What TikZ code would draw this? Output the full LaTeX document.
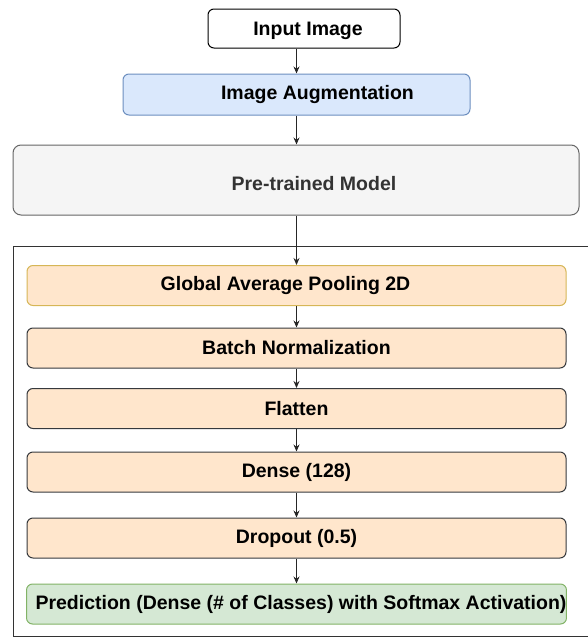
\documentclass[tikz,border=0pt]{standalone}
\usepackage{fontspec}
\setmainfont{Liberation Sans}
\usetikzlibrary{arrows.meta}
\definecolor{augfill}{HTML}{DAE8FC}
\definecolor{augdraw}{HTML}{6C8EBF}
\definecolor{prefill}{HTML}{F5F5F5}
\definecolor{predraw}{HTML}{666666}
\definecolor{pretext}{HTML}{333333}
\definecolor{layfill}{HTML}{FFE6CC}
\definecolor{gapdraw}{HTML}{D6B656}
\definecolor{laydraw}{HTML}{36393D}
\definecolor{prdfill}{HTML}{D5E8D4}
\definecolor{prddraw}{HTML}{82B366}
\tikzset{
  box/.style={draw, rounded corners=6pt, line width=1pt, inner sep=0pt,
    font=\fontsize{19.5}{22}\selectfont\bfseries, text=black},
  layer/.style={box, fill=layfill, draw=laydraw, minimum width=539pt, minimum height=40pt},
  flow/.style={draw=black!85, line width=1pt, -{Stealth[length=7pt,width=6pt]}},
  frame/.style={draw=black!80, line width=1pt}
}
\begin{document}
\begin{tikzpicture}[x=1pt,y=-1pt]
\useasboundingbox (0,0) rectangle (587,637);
\node[box, fill=white, draw=black, minimum width=192pt, minimum height=39pt] (in) at (304,28.5) {\raisebox{-2pt}[\height][\depth]{\hspace*{8pt}Input Image}};
\node[box, fill=augfill, draw=augdraw, minimum width=347pt, minimum height=41pt] (aug) at (296.5,94.5) {\hspace*{42pt}Image Augmentation};
\node[box, fill=prefill, draw=predraw, text=pretext, rounded corners=8pt, minimum width=566pt, minimum height=70pt] (pre) at (296,180) {\raisebox{-4pt}[\height][\depth]{\hspace*{36pt}Pre-trained Model}};
\coordinate (ftr) at (590,246);
\coordinate (ftl) at (13.5,246);
\coordinate (fbl) at (13.5,636);
\coordinate (fbr) at (590,636);
\draw[frame] (ftr) -- (ftl) -- (fbl) -- (fbr);
\node[layer, draw=gapdraw] (gap) at (296.5,285.5) {\hspace*{-22pt}Global Average Pooling 2D};
\node[layer] (bn) at (296.5,348) {Batch Normalization};
\node[layer] (fl) at (296.5,408.5) {Flatten};
\node[layer] (de) at (296.5,472) {Dense (128)};
\node[layer] (dr) at (296.5,538) {Dropout (0.5)};
\node[layer, fill=prdfill, draw=prddraw] (pr) at (296.5,604) {\hspace*{9pt}Prediction (Dense (\# of Classes) with Softmax Activation)};
\draw[flow] (aug.north |- in.south) -- (aug.north);
\draw[flow] (aug.south) -- (pre.north -| aug.south);
\draw[flow] (pre.south -| gap.north) -- (gap.north);
\draw[flow] (gap) -- (bn);
\draw[flow] (bn) -- (fl);
\draw[flow] (fl) -- (de);
\draw[flow] (de) -- (dr);
\draw[flow] (dr) -- (pr);
\end{tikzpicture}
\end{document}
